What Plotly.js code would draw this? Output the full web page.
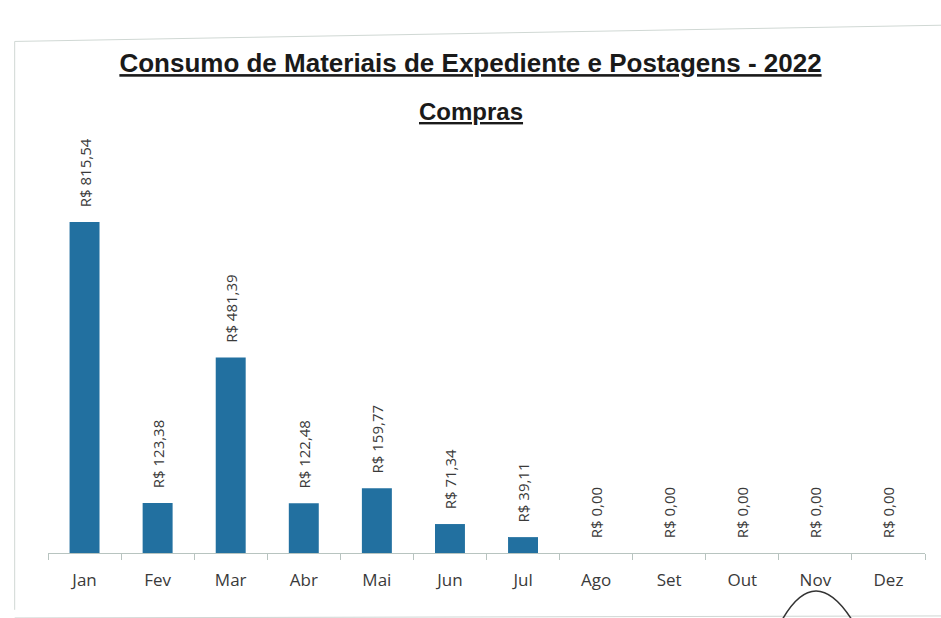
<!DOCTYPE html>
<html>
<head>
<meta charset="utf-8">
<script src="https://cdn.plot.ly/plotly-3.0.1.min.js"></script>
<style>html,body{margin:0;padding:0;background:#fff;}</style>
</head>
<body>
<div id="chart" style="width:941px;height:618px;"></div>
<script>
const months = ["Jan","Fev","Mar","Abr","Mai","Jun","Jul","Ago","Set","Out","Nov","Dez"];
const compras = [815.54, 123.38, 481.39, 122.48, 159.77, 71.34, 39.11, 0, 0, 0, 0, 0];
const titleText = "Consumo de Materiais de Expediente e Postagens - 2022";
const subtitleText = "Compras";

function brl(v){ return "\u00a0\u00a0\u00a0R$ " + v.toFixed(2).replace(".", ","); }

const trace = {
  type: "bar",
  x: months,
  y: compras,
  marker: {color: "#2270a0"},
  text: compras.map(brl),
  textposition: "outside",
  textangle: -90,
  constraintext: "none",
  cliponaxis: false,
  textfont: {family: "Open Sans, sans-serif", size: 15, color: "#3a3a3a"},
  hoverinfo: "skip"
};

const layout = {
  width: 941, height: 618,
  margin: {l: 48, r: 16, t: 147, b: 65},
  paper_bgcolor: "#ffffff",
  plot_bgcolor: "#ffffff",
  bargap: 0.59,
  showlegend: false,
  font: {family: "Open Sans, sans-serif", color: "#3a3a3a"},
  title: {
    text: '<span style="text-decoration:underline">' + titleText + '</span>',
    font: {family: "Liberation Sans, Arial, sans-serif", size: 26, color: "#1a1a1a", weight: "bold"},
    x: 0.5, xanchor: "center", xref: "container",
    y: 1 - 63/618, yanchor: "middle", yref: "container"
  },
  annotations: [{
    text: '<span style="text-decoration:underline"><b>' + subtitleText + '</b></span>',
    xref: "paper", yref: "paper",
    x: (471 - 48) / 877, xanchor: "center",
    y: (553 - 112) / 406, yanchor: "middle",
    showarrow: false,
    font: {family: "Liberation Sans, Arial, sans-serif", size: 24, color: "#1a1a1a"}
  }],
  xaxis: {
    type: "category",
    showline: true, linecolor: "#b8c4c0", linewidth: 1,
    ticks: "outside", tickson: "boundaries", ticklen: 6, tickcolor: "#b8c4c0",
    ticklabelstandoff: 12,
    tickfont: {family: "Open Sans, sans-serif", size: 17, color: "#3a3a3a"},
    showgrid: false, zeroline: false,
    fixedrange: true
  },
  yaxis: {
    range: [0, 1000],
    visible: false,
    showgrid: false, zeroline: false,
    fixedrange: true
  },
  shapes: [
    {type: "line", xref: "paper", yref: "paper", x0: -0.038, x1: 1.02, y0: 1.26, y1: 1.30,
     line: {color: "#d0d8d4", width: 1}},
    {type: "line", xref: "paper", yref: "paper", x0: -0.038, x1: -0.038, y0: 1.26, y1: -0.14,
     line: {color: "#d0d8d4", width: 1}},
    {type: "line", xref: "paper", yref: "paper", x0: -0.038, x1: 1.02, y0: -0.16, y1: -0.155,
     line: {color: "#cfd6d3", width: 1}},
    {type: "path", xref: "paper", yref: "paper",
     path: "M 0.837,-0.165 Q 0.8746,-0.022 0.9168,-0.165",
     line: {color: "#333333", width: 1.5}}
  ]
};

Plotly.newPlot("chart", [trace], layout, {displayModeBar: false, staticPlot: true});
</script>
</body>
</html>
